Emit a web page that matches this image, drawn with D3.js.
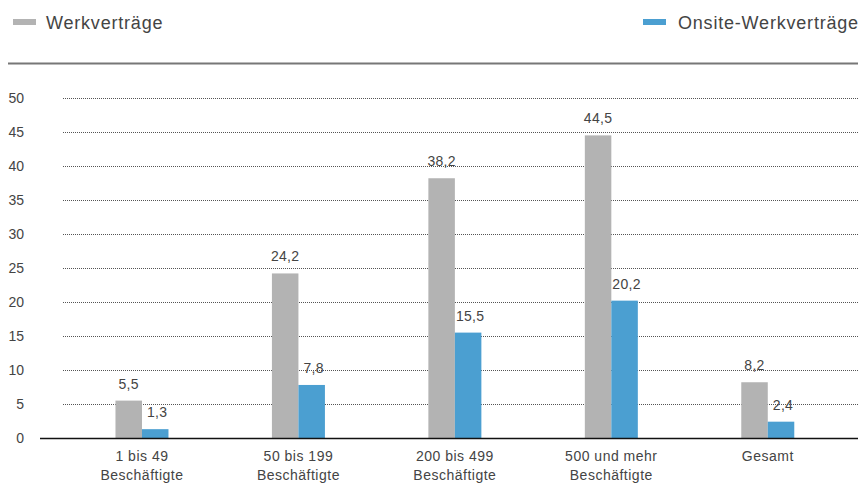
<!DOCTYPE html>
<html>
<head>
<meta charset="utf-8">
<script src="https://d3js.org/d3.v7.min.js"></script>
<style>
  body { margin: 0; background: #fff; }
  text { font-family: "Liberation Sans", Arial, sans-serif; fill: #444; }
</style>
</head>
<body>
<svg width="860" height="499"></svg>
<script>
// chart data
const categories = [["1 bis 49", "Beschäftigte"], ["50 bis 199", "Beschäftigte"],
                    ["200 bis 499", "Beschäftigte"], ["500 und mehr", "Beschäftigte"], ["Gesamt"]];
const werk = [5.5, 24.2, 38.2, 44.5, 8.2];
const onsite = [1.3, 7.8, 15.5, 20.2, 2.4];
const seriesNames = ["Werkverträge", "Onsite-Werkverträge"];
const yTicks = [0, 5, 10, 15, 20, 25, 30, 35, 40, 45, 50];

const colors = ["#b3b3b3", "#4b9fd1"];
const svg = d3.select("svg");
const fmt = d => d.toFixed(1).replace(".", ",");

const x = d3.scaleBand().domain(d3.range(categories.length)).range([63.75, 846]);
const y = d3.scaleLinear().domain([0, 50]).range([438, 98]);
const barW = 26.5;

// legend
const leg = svg.append("g");
leg.append("rect").attr("x", 13).attr("y", 19).attr("width", 23).attr("height", 6).attr("fill", colors[0]);
leg.append("text").attr("x", 46).attr("y", 29).attr("font-size", 18).attr("letter-spacing", 0.8).text(seriesNames[0]);
leg.append("rect").attr("x", 643).attr("y", 19).attr("width", 23).attr("height", 6).attr("fill", colors[1]);
leg.append("text").attr("x", 678).attr("y", 29).attr("font-size", 18).attr("letter-spacing", 0.8).text(seriesNames[1]);

// top rule
svg.append("line").attr("x1", 8).attr("x2", 858).attr("y1", 63.5).attr("y2", 63.5)
   .attr("stroke", "#777").attr("stroke-width", 2);

// grid
svg.append("g").selectAll("line").data(yTicks.filter(d => d > 0)).enter().append("line")
   .attr("x1", 63).attr("x2", 858)
   .attr("y1", d => y(d) + 0.5).attr("y2", d => y(d) + 0.5)
   .attr("stroke", "#555").attr("stroke-width", 1).attr("stroke-dasharray", "1,1");

// y tick labels
svg.append("g").selectAll("text").data(yTicks).enter().append("text")
   .attr("x", 24).attr("y", d => y(d) + 5).attr("text-anchor", "end")
   .attr("font-size", 14).text(d => d);

// bars
const series = [werk, onsite];
series.forEach((vals, si) => {
  const g = svg.append("g");
  g.selectAll("rect").data(vals).enter().append("rect")
    .attr("x", (d, i) => x(i) + x.bandwidth() / 2 - barW + si * barW)
    .attr("y", d => y(d))
    .attr("width", barW)
    .attr("height", d => y(0) - y(d))
    .attr("fill", colors[si]);
  g.selectAll("text").data(vals).enter().append("text")
    .attr("x", (d, i) => x(i) + x.bandwidth() / 2 - barW / 2 + si * barW + (si ? 2 : 0))
    .attr("y", d => y(d) - 12)
    .attr("text-anchor", "middle").attr("font-size", 14).attr("letter-spacing", 0.3)
    .text(fmt);
});

// baseline
svg.append("line").attr("x1", 40).attr("x2", 858).attr("y1", 438.5).attr("y2", 438.5)
   .attr("stroke", "#111").attr("stroke-width", 1.3);

// category labels
const cl = svg.append("g").selectAll("text").data(categories).enter().append("text")
   .attr("x", (d, i) => x(i) + x.bandwidth() / 2)
   .attr("y", 461).attr("text-anchor", "middle").attr("font-size", 14).attr("letter-spacing", 0.5);
cl.selectAll("tspan").data(d => d).enter().append("tspan")
   .attr("x", function() { return d3.select(this.parentNode).attr("x"); })
   .attr("dy", (d, i) => i ? 19 : 0)
   .text(d => d);
</script>
</body>
</html>
